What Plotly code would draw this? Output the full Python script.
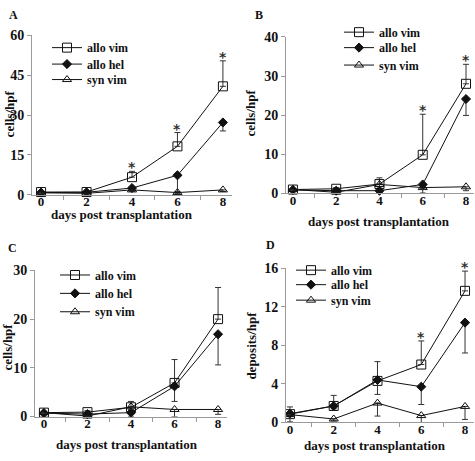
import plotly.graph_objects as go

days = [0, 2, 4, 6, 8]
series_names = ["allo vim", "allo hel", "syn vim"]

# Panel A (cells/hpf)
a_vim = [1.0, 1.0, 6.6, 18.2, 40.8]
a_vim_err = [0.3, 0.3, 2.2, 5.2, 9.6]
a_hel = [0.8, 0.9, 2.5, 7.3, 27.2]
a_hel_err = [0.3, 0.3, 0.6, 6.1, 3.2]
a_syn = [0.7, 0.5, 1.8, 0.8, 1.8]
a_syn_err = [0.2, 0.2, 0.5, 0.4, 0.6]
a_stars = [4, 6, 8]

# Panel B (cells/hpf)
b_vim = [0.9, 1.1, 2.3, 9.8, 28.0]
b_vim_err = [0.3, 0.3, 1.6, 10.4, 5.0]
b_hel = [0.8, 0.6, 0.6, 2.2, 24.1]
b_hel_err = [0.3, 0.4, 0.5, 1.0, 4.2]
b_syn = [0.9, 0.2, 2.2, 1.4, 1.6]
b_syn_err = [0.3, 0.2, 0.6, 1.4, 1.0]
b_stars = [6, 8]

# Panel C (cells/hpf)
c_vim = [0.8, 0.9, 1.9, 6.9, 20.0]
c_vim_err = [0.3, 0.3, 1.2, 4.8, 6.5]
c_hel = [0.7, 0.5, 0.8, 6.2, 16.9]
c_hel_err = [0.3, 0.3, 0.8, 3.1, 6.3]
c_syn = [0.8, 0.1, 2.0, 1.45, 1.45]
c_syn_err = [0.2, 0.1, 0.5, 1.45, 1.0]
c_stars = []

# Panel D (deposits/hpf)
d_vim = [0.85, 1.7, 4.3, 6.0, 13.65]
d_vim_err = [0.75, 1.1, 2.0, 2.45, 2.05]
d_hel = [0.9, 1.7, 4.4, 3.7, 10.35]
d_hel_err = [0.3, 0.3, 1.5, 1.85, 3.15]
d_syn = [0.8, 0.35, 2.0, 0.7, 1.65]
d_syn_err = [0.75, 0.2, 1.35, 1.05, 1.35]
d_stars = [6, 8]

W, H = 475, 461
FONT = "Liberation Serif"
INK = "#111111"
AXC = "#9a9a9a"

def fx(px):
    return px / W

def fy(py):
    return 1 - py / H

panels = [
    dict(letter="A", ytitle="cells/hpf", vals=(a_vim, a_hel, a_syn), errs=(a_vim_err, a_hel_err, a_syn_err),
         stars=a_stars, xd=(32, 232), yd=(29.3, 194), xr=(-0.40, 8.40), yr=(0, 60), dt=15,
         letter_pos=(13, 8), ytitle_pos=(9, 111), xtitle_pos=(122, 214), leg=(80, (42, 59, 75))),
    dict(letter="B", ytitle="cells/hpf", vals=(b_vim, b_hel, b_syn), errs=(b_vim_err, b_hel_err, b_syn_err),
         stars=b_stars, xd=(286, 474), yd=(31, 192.3), xr=(-0.32, 8.37), yr=(0, 40), dt=10,
         letter_pos=(259, 8), ytitle_pos=(250, 110), xtitle_pos=(379, 222), leg=(372, (26, 42, 60))),
    dict(letter="C", ytitle="cells/hpf", vals=(c_vim, c_hel, c_syn), errs=(c_vim_err, c_hel_err, c_syn_err),
         stars=c_stars, xd=(35, 227), yd=(272.3, 423.3), xr=(-0.41, 8.41), yr=(0, 30), dt=10,
         letter_pos=(12, 249), ytitle_pos=(8, 352), xtitle_pos=(127, 452), leg=(88, (277, 296, 315))),
    dict(letter="D", ytitle="deposits/hpf", vals=(d_vim, d_hel, d_syn), errs=(d_vim_err, d_hel_err, d_syn_err),
         stars=d_stars, xd=(286, 474), yd=(270, 429.3), xr=(-0.18, 8.41), yr=(0, 16), dt=4,
         letter_pos=(270, 246), ytitle_pos=(252, 350), xtitle_pos=(375, 453), leg=(324, (272, 287, 303))),
]

styles = [
    dict(symbol="square-open", size=9, up=True),
    dict(symbol="diamond", size=7, up=False),
    dict(symbol="triangle-up-open", size=8, up=False),
]

fig = go.Figure()
annotations = []
layout = dict(
    width=W, height=H, margin=dict(l=0, r=0, t=0, b=0),
    paper_bgcolor="white", plot_bgcolor="white", showlegend=True,
    font=dict(family=FONT, color=INK, size=13, weight="bold"),
)

legend_idx = 0
for i, p in enumerate(panels):
    n = "" if i == 0 else str(i + 1)
    xa, ya = "x" + n, "y" + n
    for j, (s, name, vals, err) in enumerate(zip(styles, series_names, p["vals"], p["errs"])):
        legend_idx += 1
        leg = "legend" if legend_idx == 1 else "legend" + str(legend_idx)
        fig.add_trace(go.Scatter(
            x=days, y=vals, name=name, mode="lines+markers",
            xaxis=xa, yaxis=ya, legend=leg, cliponaxis=False,
            line=dict(color=INK, width=1),
            marker=dict(symbol=s["symbol"], size=s["size"], color=INK,
                        line=dict(color=INK, width=1)),
            error_y=dict(type="data", array=err if s["up"] else [0] * len(err),
                         arrayminus=[0] * len(err) if s["up"] else err,
                         symmetric=False, color="#333333", thickness=1, width=3),
        ))
        layout[leg] = dict(
            x=fx(p["leg"][0] - 33), y=fy(p["leg"][1][j]), xanchor="left", yanchor="middle",
            bgcolor="rgba(0,0,0,0)", borderwidth=0, itemwidth=30,
            font=dict(size=12, family=FONT, color=INK, weight="bold"),
        )
    for sx in p["stars"]:
        k = days.index(sx)
        top = p["vals"][0][k] + p["errs"][0][k]
        annotations.append(dict(x=sx, y=top, xref=xa, yref=ya, text="*", showarrow=False,
                                yanchor="bottom", yshift=-6,
                                font=dict(size=14, color="#333333", family="DejaVu Sans", weight="bold")))
    layout["xaxis" + n] = dict(
        domain=[fx(p["xd"][0]), fx(p["xd"][1])], range=list(p["xr"]), anchor=ya,
        tickvals=days, ticks="", showline=True, linecolor=AXC, linewidth=1,
        showgrid=False, zeroline=False, ticklabelstandoff=-5,
        tickfont=dict(size=13, family=FONT, weight="bold"),
        minor=dict(tickvals=[1, 3, 5, 7], ticks="outside", ticklen=4, tickcolor=AXC, showgrid=False),
    )
    layout["yaxis" + n] = dict(
        domain=[fy(p["yd"][1]), fy(p["yd"][0])], range=list(p["yr"]), anchor=xa,
        dtick=p["dt"], tick0=0, ticks="outside", ticklen=4, tickcolor=AXC,
        showline=True, linecolor=AXC, linewidth=1, showgrid=False, zeroline=False,
        tickfont=dict(size=14, family=FONT, weight="bold"),
    )
    annotations.append(dict(x=fx(p["letter_pos"][0]), y=fy(p["letter_pos"][1]), xref="paper", yref="paper",
                            text=p["letter"], showarrow=False, xanchor="center", yanchor="middle",
                            font=dict(size=12, family=FONT, weight="bold")))
    annotations.append(dict(x=fx(p["ytitle_pos"][0]), y=fy(p["ytitle_pos"][1]), xref="paper", yref="paper",
                            text=p["ytitle"], showarrow=False, textangle=-90, xanchor="center", yanchor="middle",
                            font=dict(size=13, family=FONT, weight="bold")))
    annotations.append(dict(x=fx(p["xtitle_pos"][0]), y=fy(p["xtitle_pos"][1]), xref="paper", yref="paper",
                            text="days post transplantation", showarrow=False, xanchor="center", yanchor="middle",
                            font=dict(size=13, family=FONT, weight="bold")))

layout["annotations"] = annotations
fig.update_layout(**layout)
fig.write_html("out.html", config={"displayModeBar": False},
               post_script="document.body.style.margin='0';document.body.style.padding='0';")
